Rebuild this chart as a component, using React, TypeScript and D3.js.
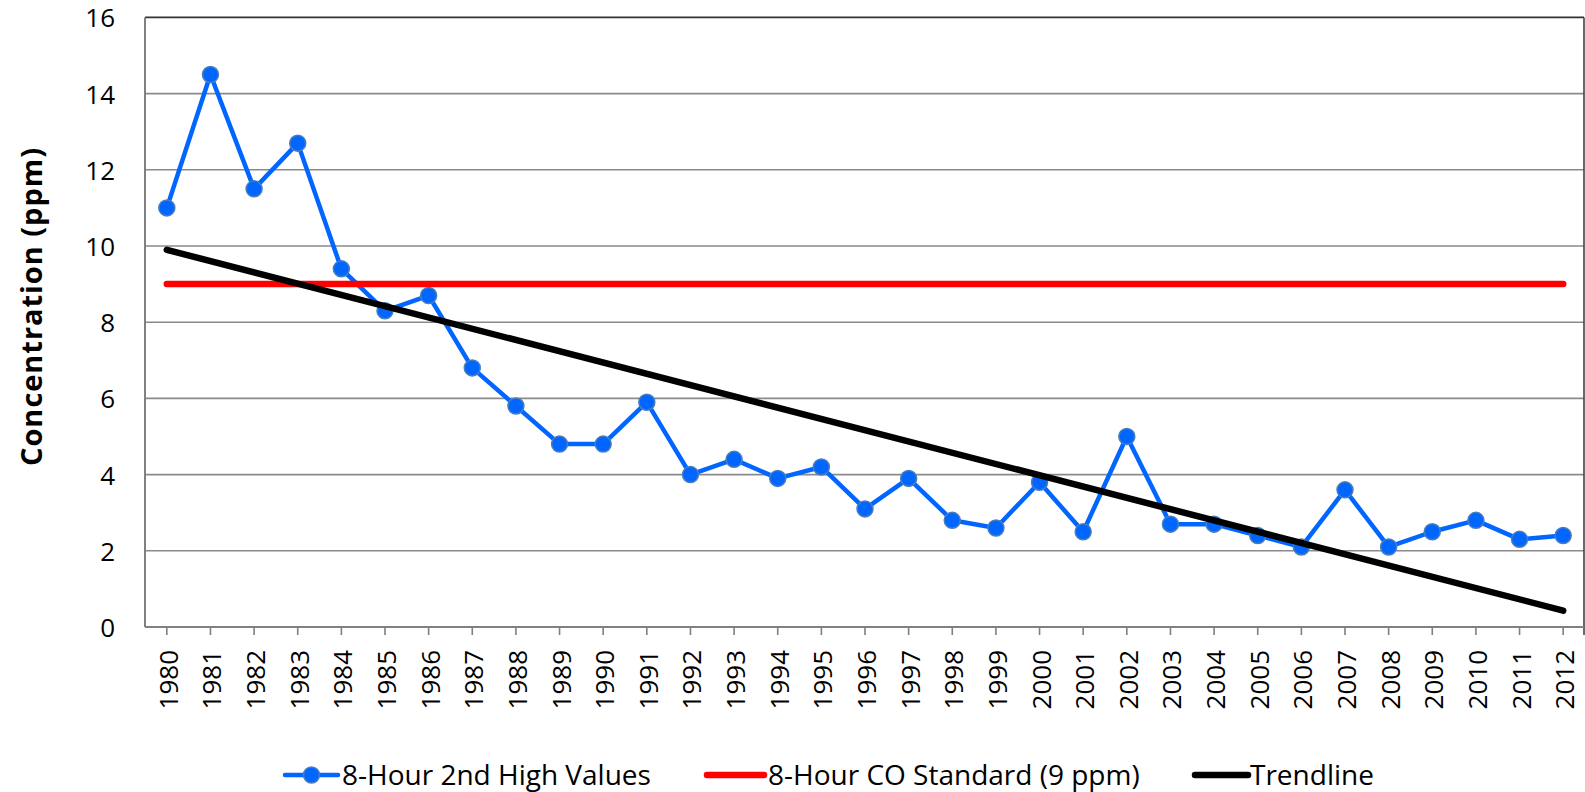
import React from "react";
import * as d3 from "d3";

const years: string[] = [
  "1980","1981","1982","1983","1984","1985","1986","1987","1988","1989","1990",
  "1991","1992","1993","1994","1995","1996","1997","1998","1999","2000","2001",
  "2002","2003","2004","2005","2006","2007","2008","2009","2010","2011","2012",
];
const highValues: number[] = [
  11.0, 14.5, 11.5, 12.7, 9.4, 8.3, 8.7, 6.8, 5.8, 4.8, 4.8,
  5.9, 4.0, 4.4, 3.9, 4.2, 3.1, 3.9, 2.8, 2.6, 3.8, 2.5,
  5.0, 2.7, 2.7, 2.4, 2.1, 3.6, 2.1, 2.5, 2.8, 2.3, 2.4,
];
const standardValue: number = 9;
const trendEnds: number[] = [9.9, 0.43];
const yTicks: number[] = [0, 2, 4, 6, 8, 10, 12, 14, 16];
const legendLabels: string[] = ["8-Hour 2nd High Values", "8-Hour CO Standard (9 ppm)", "Trendline"];
const yTitle = "Concentration (ppm)";

const W = 1585;
const H = 792;
const L = 145;
const R = 1584;
const T = 17.4;
const B = 627;
const FONT = "'Open Sans', sans-serif";

export default function App() {
  const x = d3.scaleBand<string>().domain(years).range([L, 1585]).paddingInner(0).paddingOuter(0);
  const cx = (yr: string) => (x(yr) as number) + x.bandwidth() / 2;
  const y = d3.scaleLinear().domain([0, 16]).range([B, T]);

  const line = d3
    .line<number>()
    .x((_, i) => cx(years[i]))
    .y((d) => y(d));

  const first = years[0];
  const last = years[years.length - 1];

  const legendY = 775;

  return (
    <svg
      width={W}
      height={H}
      style={{ position: "absolute", left: 0, top: 0, background: "#fff" }}
      fontFamily={FONT}
    >
      <rect x={0} y={0} width={W} height={H} fill="#fff" />
      {/* gridlines */}
      {yTicks.slice(1, -1).map((t) => (
        <line key={t} x1={L} x2={R} y1={y(t)} y2={y(t)} stroke="#8a8a8a" strokeWidth={1.6} />
      ))}
      {/* plot border top/right */}
      <line x1={L} x2={R} y1={y(16)} y2={y(16)} stroke="#333" strokeWidth={1.6} />
      <line x1={R} x2={R} y1={y(16)} y2={B + 8} stroke="#444" strokeWidth={1.6} />
      {/* axes */}
      <line x1={L} x2={L} y1={y(16)} y2={B} stroke="#808080" strokeWidth={2} />
      <line x1={L} x2={R} y1={B} y2={B} stroke="#808080" strokeWidth={2} />
      {years.map((yr) => (
        <line key={yr} x1={cx(yr)} x2={cx(yr)} y1={B} y2={B + 8} stroke="#808080" strokeWidth={1.6} />
      ))}
      {/* y tick labels */}
      {yTicks.map((t) => (
        <text key={t} x={115} y={y(t)} textAnchor="end" dominantBaseline="central" fontSize={26} fill="#000">
          {t}
        </text>
      ))}
      {/* x tick labels */}
      {years.map((yr) => (
        <text
          key={yr}
          transform={`translate(${cx(yr) + 1},650) rotate(-90)`}
          textAnchor="end"
          dominantBaseline="central"
          fontSize={26}
          fill="#000"
        >
          {yr}
        </text>
      ))}
      {/* y title */}
      <text
        transform={`translate(30,307) rotate(-90)`}
        textAnchor="middle"
        dominantBaseline="central"
        fontSize={29}
        fontWeight="bold"
        textLength={318}
        lengthAdjust="spacing"
        fill="#000"
      >
        {yTitle}
      </text>

      {/* series */}
      <path d={line(highValues) || ""} fill="none" stroke="#0066FF" strokeWidth={4.5} strokeLinejoin="round" />
      {highValues.map((v, i) => (
        <circle key={i} cx={cx(years[i])} cy={y(v)} r={8} fill="#0066FF" stroke="#4a7ebb" strokeWidth={1.5} />
      ))}
      <line
        x1={cx(first)}
        x2={cx(last)}
        y1={y(standardValue)}
        y2={y(standardValue)}
        stroke="#FF0000"
        strokeWidth={6.5}
        strokeLinecap="round"
      />
      <line
        x1={cx(first)}
        x2={cx(last)}
        y1={y(trendEnds[0])}
        y2={y(trendEnds[1])}
        stroke="#000"
        strokeWidth={6.5}
        strokeLinecap="round"
      />

      {/* legend */}
      <line x1={285} x2={338} y1={legendY} y2={legendY} stroke="#0066FF" strokeWidth={4.5} strokeLinecap="round" />
      <circle cx={311.5} cy={legendY} r={8} fill="#0066FF" stroke="#4a7ebb" strokeWidth={1.5} />
      <text x={342} y={legendY - 1} dominantBaseline="central" fontSize={28} fill="#000">
        {legendLabels[0]}
      </text>
      <line x1={707} x2={764} y1={legendY} y2={legendY} stroke="#FF0000" strokeWidth={6.5} strokeLinecap="round" />
      <text x={768} y={legendY - 1} dominantBaseline="central" fontSize={28} fill="#000">
        {legendLabels[1]}
      </text>
      <line x1={1195} x2={1248} y1={legendY} y2={legendY} stroke="#000" strokeWidth={6.5} strokeLinecap="round" />
      <text x={1250} y={legendY - 1} dominantBaseline="central" fontSize={28} fill="#000">
        {legendLabels[2]}
      </text>
    </svg>
  );
}
